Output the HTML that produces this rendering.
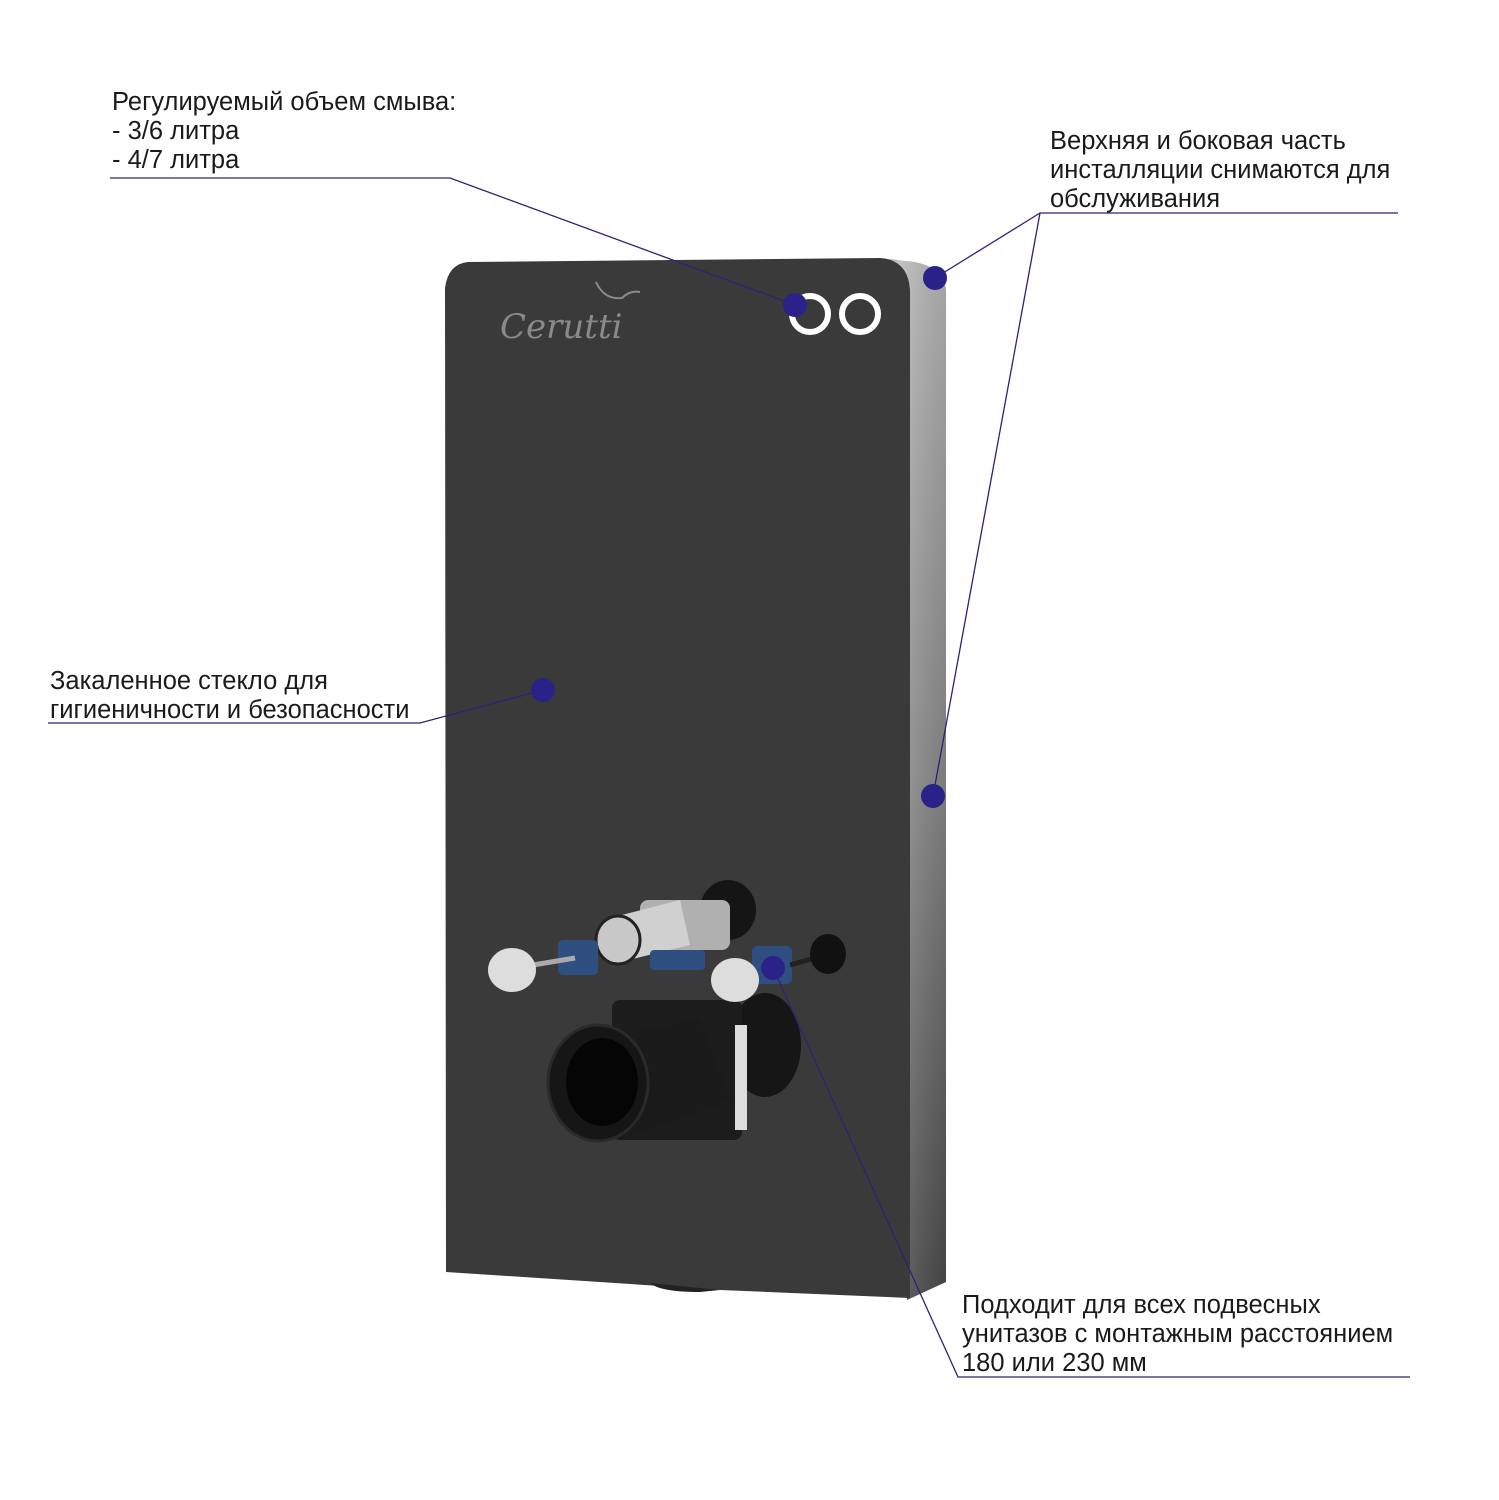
<!DOCTYPE html>
<html><head><meta charset="utf-8"><style>
html,body{margin:0;padding:0;background:#fff}
svg{display:block}
text{font-family:"Liberation Sans","DejaVu Sans",sans-serif;font-size:25.5px;fill:#1a1a1a}
</style></head><body>
<svg width="1499" height="1500" viewBox="0 0 1499 1500" xmlns="http://www.w3.org/2000/svg">
<defs>
<linearGradient id="side" x1="0" y1="0" x2="0" y2="1">
<stop offset="0" stop-color="#b8b8b8"/><stop offset="0.5" stop-color="#8a8a8a"/><stop offset="1" stop-color="#4a4a4a"/>
</linearGradient>
<linearGradient id="sideh" x1="0" y1="0" x2="1" y2="0">
<stop offset="0" stop-color="#000" stop-opacity="0.25"/><stop offset="0.3" stop-color="#fff" stop-opacity="0.15"/><stop offset="1" stop-color="#000" stop-opacity="0.1"/>
</linearGradient>
</defs>
<path d="M880 258 L915 262 Q944 268 946 290 L946 1282 L907 1300 L907 290 Z" fill="url(#side)"/>
<path d="M880 258 L915 262 Q944 268 946 290 L946 1282 L907 1300 L907 290 Z" fill="url(#sideh)"/>
<path d="M468 262 L880 258 Q908 260 910 290 L910 1298 L720 1290 L660 1286 L446 1272 L445 288 Q448 264 468 262 Z" fill="#3a3a3a"/>
<path d="M650 1283 Q660 1292 700 1292 L720 1290 Z" fill="#222"/>
<text x="500" y="338" style="font-family:'DejaVu Serif',serif;font-style:italic;font-size:34px;fill:#8a8a8a">Cerutti</text>
<path d="M596 282 Q604 300 622 298 Q630 290 640 292" stroke="#8a8a8a" stroke-width="2" fill="none"/>
<circle cx="810" cy="314" r="18" fill="none" stroke="#fff" stroke-width="6"/>
<circle cx="860" cy="314" r="18" fill="none" stroke="#fff" stroke-width="6"/>
<ellipse cx="728" cy="910" rx="28" ry="30" fill="#151515"/>
<rect x="640" y="900" width="90" height="50" rx="8" fill="#b0b0b0"/>
<path d="M610 918 L680 900 L690 945 L620 962 Z" fill="#d0d0d0"/>
<ellipse cx="618" cy="940" rx="22" ry="24" fill="#c8c8c8" stroke="#222" stroke-width="3"/>
<rect x="558" y="940" width="40" height="35" rx="5" fill="#2f4f80"/>
<rect x="650" y="950" width="55" height="20" rx="4" fill="#2f4f80"/>
<rect x="752" y="946" width="40" height="38" rx="5" fill="#2f4f80"/>
<line x1="515" y1="968" x2="575" y2="958" stroke="#aaa" stroke-width="5"/>
<ellipse cx="512" cy="970" rx="24" ry="22" fill="#ddd"/>
<line x1="790" y1="965" x2="825" y2="955" stroke="#222" stroke-width="5"/>
<ellipse cx="828" cy="954" rx="18" ry="20" fill="#111"/>
<ellipse cx="765" cy="1045" rx="36" ry="52" fill="#161616"/>
<rect x="612" y="1000" width="130" height="140" rx="8" fill="#1c1c1c"/>
<rect x="735" y="1025" width="12" height="105" fill="#ddd"/>
<path d="M590 1040 L700 1020 L730 1100 L620 1140 Z" fill="#1a1a1a"/>
<ellipse cx="598" cy="1083" rx="50" ry="58" fill="#161616" stroke="#2a2a2a" stroke-width="3"/>
<ellipse cx="602" cy="1082" rx="36" ry="44" fill="#050505"/>
<ellipse cx="735" cy="980" rx="24" ry="22" fill="#ddd"/>
<g stroke="#2a2477" stroke-width="1.3" fill="none">
<polyline points="110,178 450,178 795,305"/>
<polyline points="1398,213 1040,213 935,278"/>
<line x1="1040" y1="213" x2="933" y2="796"/>
<polyline points="48,723 420,723 543,690"/>
<polyline points="1410,1377 958,1377 773,968"/>
</g>
<g fill="#2a2288">
<circle cx="795" cy="305" r="12"/>
<circle cx="935" cy="278" r="12"/>
<circle cx="933" cy="796" r="12"/>
<circle cx="543" cy="690" r="12"/>
<circle cx="773" cy="968" r="12"/>
</g>
<text x="112" y="110">Регулируемый объем смыва:</text>
<text x="112" y="139">- 3/6 литра</text>
<text x="112" y="168">- 4/7 литра</text>
<text x="1050" y="149">Верхняя и боковая часть</text>
<text x="1050" y="178">инсталляции снимаются для</text>
<text x="1050" y="207">обслуживания</text>
<text x="50" y="689">Закаленное стекло для</text>
<text x="50" y="718">гигиеничности и безопасности</text>
<text x="962" y="1313">Подходит для всех подвесных</text>
<text x="962" y="1342">унитазов с монтажным расстоянием</text>
<text x="962" y="1371">180 или 230 мм</text>
</svg>
</body></html>
